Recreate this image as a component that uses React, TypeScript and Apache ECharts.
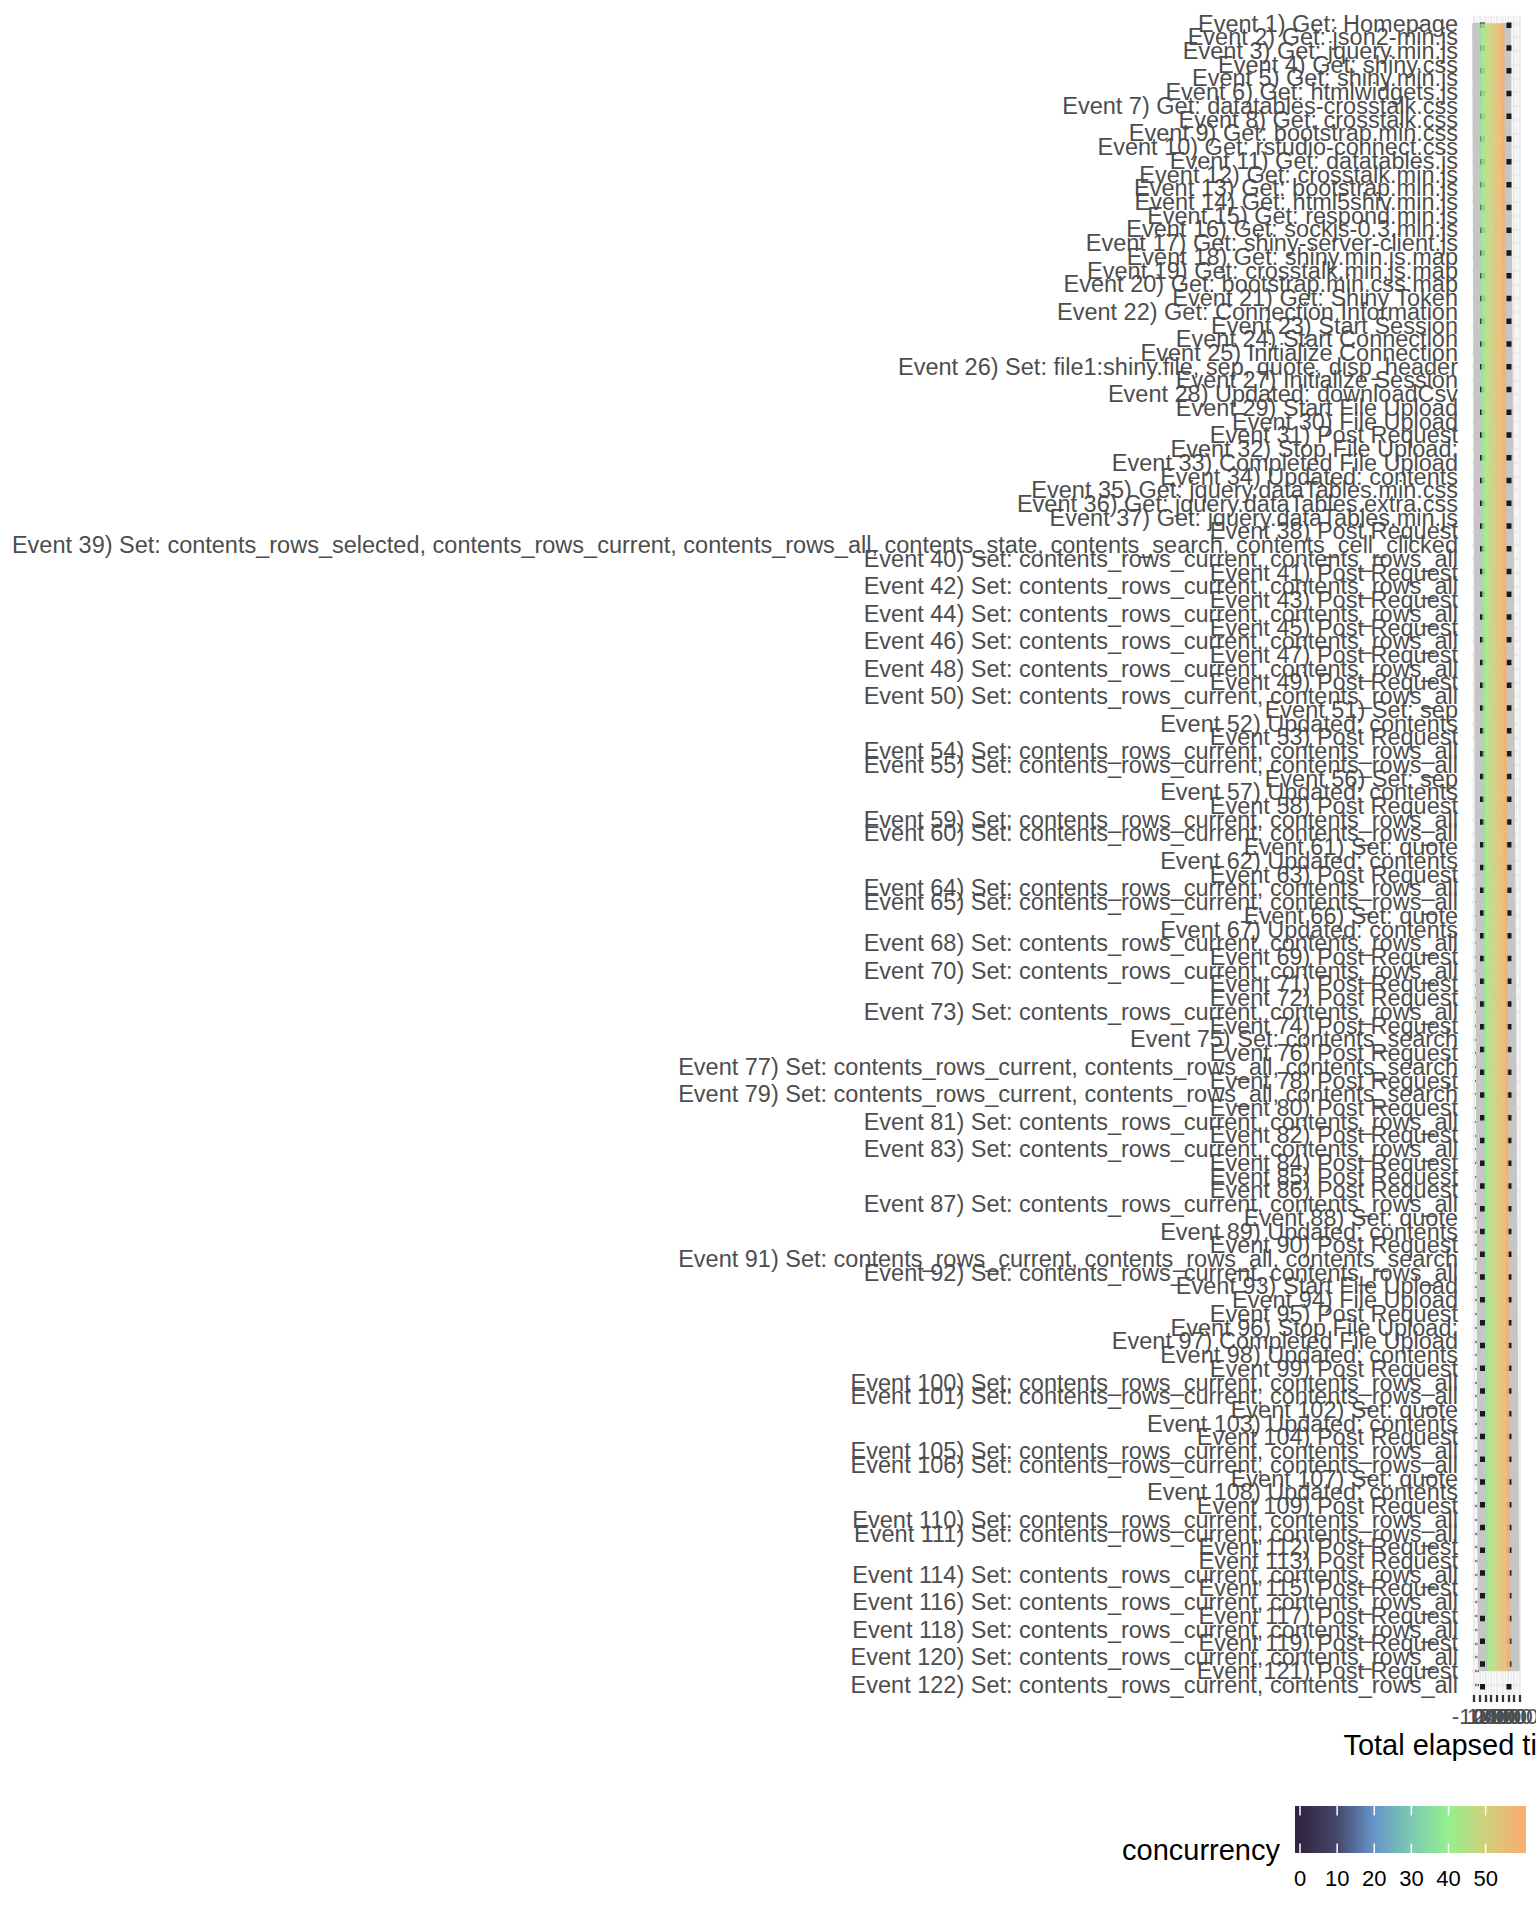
import React, { useEffect, useRef } from "react";
import * as echarts from "echarts";

const eventLabels = [
  "Event 1) Get: Homepage",
  "Event 2) Get: json2-min.js",
  "Event 3) Get: jquery.min.js",
  "Event 4) Get: shiny.css",
  "Event 5) Get: shiny.min.js",
  "Event 6) Get: htmlwidgets.js",
  "Event 7) Get: datatables-crosstalk.css",
  "Event 8) Get: crosstalk.css",
  "Event 9) Get: bootstrap.min.css",
  "Event 10) Get: rstudio-connect.css",
  "Event 11) Get: datatables.js",
  "Event 12) Get: crosstalk.min.js",
  "Event 13) Get: bootstrap.min.js",
  "Event 14) Get: html5shiv.min.js",
  "Event 15) Get: respond.min.js",
  "Event 16) Get: sockjs-0.3.min.js",
  "Event 17) Get: shiny-server-client.js",
  "Event 18) Get: shiny.min.js.map",
  "Event 19) Get: crosstalk.min.js.map",
  "Event 20) Get: bootstrap.min.css.map",
  "Event 21) Get: Shiny Token",
  "Event 22) Get: Connection Information",
  "Event 23) Start Session",
  "Event 24) Start Connection",
  "Event 25) Initialize Connection",
  "Event 26) Set: file1:shiny.file, sep, quote, disp_header",
  "Event 27) Initialize Session",
  "Event 28) Updated: downloadCsv",
  "Event 29) Start File Upload",
  "Event 30) File Upload",
  "Event 31) Post Request",
  "Event 32) Stop File Upload:",
  "Event 33) Completed File Upload",
  "Event 34) Updated: contents",
  "Event 35) Get: jquery.dataTables.min.css",
  "Event 36) Get: jquery.dataTables.extra.css",
  "Event 37) Get: jquery.dataTables.min.js",
  "Event 38) Post Request",
  "Event 39) Set: contents_rows_selected, contents_rows_current, contents_rows_all, contents_state, contents_search, contents_cell_clicked",
  "Event 40) Set: contents_rows_current, contents_rows_all",
  "Event 41) Post Request",
  "Event 42) Set: contents_rows_current, contents_rows_all",
  "Event 43) Post Request",
  "Event 44) Set: contents_rows_current, contents_rows_all",
  "Event 45) Post Request",
  "Event 46) Set: contents_rows_current, contents_rows_all",
  "Event 47) Post Request",
  "Event 48) Set: contents_rows_current, contents_rows_all",
  "Event 49) Post Request",
  "Event 50) Set: contents_rows_current, contents_rows_all",
  "Event 51) Set: sep",
  "Event 52) Updated: contents",
  "Event 53) Post Request",
  "Event 54) Set: contents_rows_current, contents_rows_all",
  "Event 55) Set: contents_rows_current, contents_rows_all",
  "Event 56) Set: sep",
  "Event 57) Updated: contents",
  "Event 58) Post Request",
  "Event 59) Set: contents_rows_current, contents_rows_all",
  "Event 60) Set: contents_rows_current, contents_rows_all",
  "Event 61) Set: quote",
  "Event 62) Updated: contents",
  "Event 63) Post Request",
  "Event 64) Set: contents_rows_current, contents_rows_all",
  "Event 65) Set: contents_rows_current, contents_rows_all",
  "Event 66) Set: quote",
  "Event 67) Updated: contents",
  "Event 68) Set: contents_rows_current, contents_rows_all",
  "Event 69) Post Request",
  "Event 70) Set: contents_rows_current, contents_rows_all",
  "Event 71) Post Request",
  "Event 72) Post Request",
  "Event 73) Set: contents_rows_current, contents_rows_all",
  "Event 74) Post Request",
  "Event 75) Set: contents_search",
  "Event 76) Post Request",
  "Event 77) Set: contents_rows_current, contents_rows_all, contents_search",
  "Event 78) Post Request",
  "Event 79) Set: contents_rows_current, contents_rows_all, contents_search",
  "Event 80) Post Request",
  "Event 81) Set: contents_rows_current, contents_rows_all",
  "Event 82) Post Request",
  "Event 83) Set: contents_rows_current, contents_rows_all",
  "Event 84) Post Request",
  "Event 85) Post Request",
  "Event 86) Post Request",
  "Event 87) Set: contents_rows_current, contents_rows_all",
  "Event 88) Set: quote",
  "Event 89) Updated: contents",
  "Event 90) Post Request",
  "Event 91) Set: contents_rows_current, contents_rows_all, contents_search",
  "Event 92) Set: contents_rows_current, contents_rows_all",
  "Event 93) Start File Upload",
  "Event 94) File Upload",
  "Event 95) Post Request",
  "Event 96) Stop File Upload:",
  "Event 97) Completed File Upload",
  "Event 98) Updated: contents",
  "Event 99) Post Request",
  "Event 100) Set: contents_rows_current, contents_rows_all",
  "Event 101) Set: contents_rows_current, contents_rows_all",
  "Event 102) Set: quote",
  "Event 103) Updated: contents",
  "Event 104) Post Request",
  "Event 105) Set: contents_rows_current, contents_rows_all",
  "Event 106) Set: contents_rows_current, contents_rows_all",
  "Event 107) Set: quote",
  "Event 108) Updated: contents",
  "Event 109) Post Request",
  "Event 110) Set: contents_rows_current, contents_rows_all",
  "Event 111) Set: contents_rows_current, contents_rows_all",
  "Event 112) Post Request",
  "Event 113) Post Request",
  "Event 114) Set: contents_rows_current, contents_rows_all",
  "Event 115) Post Request",
  "Event 116) Set: contents_rows_current, contents_rows_all",
  "Event 117) Post Request",
  "Event 118) Set: contents_rows_current, contents_rows_all",
  "Event 119) Post Request",
  "Event 120) Set: contents_rows_current, contents_rows_all",
  "Event 121) Post Request",
  "Event 122) Set: contents_rows_current, contents_rows_all",
];

// x axis (total elapsed time, sec)
const xMajorBreaks = [-100, 0, 100, 200, 300, 400, 500, 600, 700];
const xMinorBreaks = [-50, 50, 150, 250, 350, 450, 550, 650];
const xLimits = [-139, 724];

// sessions outside the maintenance period (grey): time of first and last event
const graySessionStart = [-100, -88, -75, -62, -50, -38, -25, -12, 0, 10, 412, 425, 438, 450, 462, 475, 488, 500, 510];
const graySessionEnd = [2, 15, 28, 40, 52, 64, 77, 90, 102, 113, 540, 553, 567, 580, 594, 608, 622, 640, 665];

// sessions in the maintenance period (coloured by concurrency)
const sessionStart = [18, 38, 58, 78, 98, 118, 138, 158, 178, 198, 218, 238, 258, 278, 298, 318, 338, 358, 378, 395, 406];
const sessionEnd = [141, 150, 170, 190, 212, 230, 250, 270, 290, 312, 330, 350, 370, 390, 410, 430, 450, 470, 490, 505, 512];
const sessionConcurrency = [38, 40, 42, 44, 45, 46, 47, 48, 49, 50, 51, 52, 53, 54, 55, 55, 56, 57, 58, 58, 59];

// maintenance period bounds (dotted vertical lines)
const maintenanceBounds = [46, 512];

// concurrency colour scale
const concurrencyTicks = [0, 10, 20, 30, 40, 50];
const paletteColors = ["#2f2641", "#46486c", "#6896ca", "#7ccab0", "#94f08d", "#cfd07c", "#f8ae6e"];
const paletteRange = [0, 60];
const colorbarRange = [-1.35, 60.87];

const FONT = "'Liberation Sans', Arial, Helvetica, sans-serif";

export default function App() {
  const ref = useRef<HTMLDivElement>(null);

  useEffect(() => {
    if (!ref.current) return;
    const chart = echarts.init(ref.current, null, { renderer: "svg" });

    const firstEventIdx = eventLabels.indexOf("Event 1) Get: Homepage");
    const lastEventIdx = eventLabels.indexOf("Event 121) Post Request");

    const grayData = graySessionStart.map((s, i) => [s, graySessionEnd[i]]);
    const sessionData = sessionStart.map((s, i) => [s, sessionEnd[i], sessionConcurrency[i]]);

    // colorbar geometry (legend)
    const barLeft = 1295;
    const barTop = 1806;
    const barW = 231;
    const barH = 47;
    const vToX = (v: number) =>
      barLeft + ((v - colorbarRange[0]) / (colorbarRange[1] - colorbarRange[0])) * barW;
    const stops = paletteColors.map((c, i) => {
      const v = paletteRange[0] + (i * (paletteRange[1] - paletteRange[0])) / (paletteColors.length - 1);
      return { offset: Math.min(1, Math.max(0, (vToX(v) - barLeft) / barW)), color: c };
    });

    const graphic: any[] = [
      {
        type: "rect",
        shape: { x: barLeft, y: barTop, width: barW, height: barH },
        style: { fill: new echarts.graphic.LinearGradient(0, 0, 1, 0, stops) },
        silent: true,
      },
      {
        type: "text",
        x: 1280,
        y: 1850,
        style: { text: "concurrency", font: `29px ${FONT}`, fill: "#000", align: "right", verticalAlign: "middle" },
      },
    ];
    concurrencyTicks.forEach((v) => {
      const x = vToX(v);
      graphic.push(
        { type: "line", shape: { x1: x, y1: barTop, x2: x, y2: barTop + barH / 5 }, style: { stroke: "#fff", lineWidth: 1.5 } },
        { type: "line", shape: { x1: x, y1: barTop + barH - barH / 5, x2: x, y2: barTop + barH }, style: { stroke: "#fff", lineWidth: 1.5 } },
        {
          type: "text",
          x,
          y: 1878,
          style: { text: String(v), font: `22px ${FONT}`, fill: "#000", align: "center", verticalAlign: "middle" },
        }
      );
    });

    const option: any = {
      animation: false,
      backgroundColor: "#ffffff",
      textStyle: { fontFamily: FONT },
      grid: [
        { left: 1472, right: 15, top: 15.8, bottom: 225, containLabel: false, outerBoundsMode: "none" },
        { left: 1472, right: 15, top: 23.5, bottom: 235.5, containLabel: false, outerBoundsMode: "none" },
      ],
      xAxis: [
        {
          gridIndex: 0,
          type: "value",
          min: xLimits[0],
          max: xLimits[1],
          axisLine: { show: false },
          axisTick: { show: true, customValues: xMajorBreaks, length: 7, lineStyle: { color: "#333333", width: 2.3 } },
          axisLabel: { show: false },
          splitLine: { show: false },
          name: "Total elapsed time (sec)",
          nameLocation: "middle",
          nameGap: 50,
          nameTextStyle: { fontSize: 29, color: "#000", fontFamily: FONT, verticalAlign: "middle" },
        },
        { gridIndex: 1, type: "value", min: xLimits[0], max: xLimits[1], show: false },
      ],
      yAxis: [
        { gridIndex: 0, type: "value", min: 0, max: 1, show: false },
        {
          gridIndex: 1,
          type: "category",
          inverse: true,
          boundaryGap: false,
          data: eventLabels,
          axisLine: { show: false },
          axisTick: { show: true, interval: 0, length: 6, lineStyle: { color: "#333333", width: 2.3 } },
          axisLabel: {
            show: true,
            interval: 0,
            showMinLabel: true,
            showMaxLabel: true,
            margin: 14,
            fontSize: 23.5,
            color: "#4d4d4d",
            fontFamily: FONT,
            hideOverlap: false,
          },
          splitLine: { show: true, interval: 0, lineStyle: { color: "#ebebeb", width: 2.3 } },
        },
      ],
      visualMap: {
        type: "continuous",
        show: false,
        min: paletteRange[0],
        max: paletteRange[1],
        dimension: 2,
        seriesIndex: 4,
        inRange: { color: paletteColors },
      },
      series: [
        {
          type: "custom",
          name: "minor grid",
          xAxisIndex: 0,
          yAxisIndex: 0,
          silent: true,
          data: xMinorBreaks.map((v) => [v]),
          renderItem: (params: any, api: any) => {
            const a = api.coord([api.value(0), 1]);
            const b = api.coord([api.value(0), 0]);
            return { type: "line", shape: { x1: a[0], y1: a[1], x2: b[0], y2: b[1] }, style: { stroke: "#ebebeb", lineWidth: 1.2 } };
          },
        },
        {
          type: "custom",
          name: "major grid",
          xAxisIndex: 0,
          yAxisIndex: 0,
          silent: true,
          data: xMajorBreaks.map((v) => [v]),
          renderItem: (params: any, api: any) => {
            const a = api.coord([api.value(0), 1]);
            const b = api.coord([api.value(0), 0]);
            return {
              type: "group",
              children: [
                { type: "line", shape: { x1: a[0], y1: a[1], x2: b[0], y2: b[1] }, style: { stroke: "#ebebeb", lineWidth: 2.3 } },
                {
                  type: "text",
                  x: b[0],
                  y: b[1] + 21,
                  style: {
                    text: String(api.value(0)),
                    font: `22.5px ${FONT}`,
                    fill: "#4d4d4d",
                    align: "center",
                    verticalAlign: "middle",
                  },
                },
              ],
            };
          },
        },
        {
          type: "custom",
          name: "other sessions",
          xAxisIndex: 1,
          yAxisIndex: 1,
          silent: true,
          data: grayData,
          renderItem: (params: any, api: any) => {
            const a = api.coord([api.value(0), firstEventIdx]);
            const b = api.coord([api.value(1), lastEventIdx]);
            return { type: "line", shape: { x1: a[0], y1: a[1], x2: b[0], y2: b[1] }, style: { stroke: "#c6c6c6", lineWidth: 4 } };
          },
        },
        {
          type: "custom",
          name: "maintenance",
          xAxisIndex: 0,
          yAxisIndex: 0,
          silent: true,
          data: maintenanceBounds.map((v) => [v]),
          renderItem: (params: any, api: any) => {
            const a = api.coord([api.value(0), 1]);
            const b = api.coord([api.value(0), 0]);
            return {
              type: "line",
              shape: { x1: a[0], y1: a[1], x2: b[0], y2: b[1] },
              style: { stroke: "#1a1a1a", lineWidth: 5, lineDash: [5.5, 17.26], lineDashOffset: 15.6 },
            };
          },
        },
        {
          type: "custom",
          name: "sessions",
          xAxisIndex: 1,
          yAxisIndex: 1,
          silent: true,
          data: sessionData,
          renderItem: (params: any, api: any) => {
            const a = api.coord([api.value(0), firstEventIdx]);
            const b = api.coord([api.value(1), lastEventIdx]);
            return {
              type: "line",
              shape: { x1: a[0], y1: a[1], x2: b[0], y2: b[1] },
              style: { stroke: api.visual("color"), lineWidth: 3, opacity: 0.6 },
            };
          },
        },
      ],
      graphic,
    };

    chart.setOption(option);
    return () => chart.dispose();
  }, []);

  return <div ref={ref} style={{ position: "absolute", left: 0, top: 0, width: 1536, height: 1920 }} />;
}
